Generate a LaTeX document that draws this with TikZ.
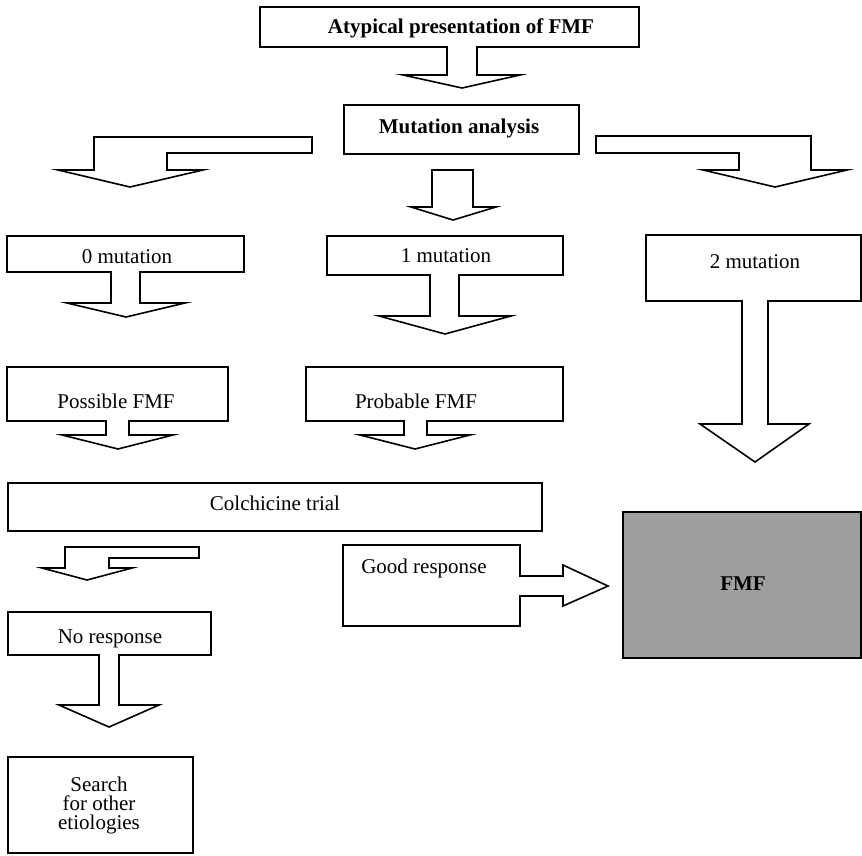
\documentclass[tikz,border=0pt]{standalone}
\usepackage{fontspec}
\setmainfont{Liberation Serif}
\definecolor{fmfgray}{RGB}{158,158,158}
\begin{document}
\begin{tikzpicture}[x=1pt,y=-1pt,
  shp/.style={draw=black,line width=1.6pt,line join=miter,fill=white},
  lbl/.style={inner sep=0pt,anchor=base,font=\fontsize{21}{19}\selectfont},
  blbl/.style={lbl,font=\fontsize{21}{19}\selectfont\bfseries}]
\useasboundingbox (0,0) rectangle (862,855);
\clip (0,0) rectangle (862,855);
% top box with arrow
\draw[shp] (260,7) -- (639,7) -- (639,47) -- (477,47) -- (477,75) -- (520,75) -- (462,88) -- (403,75) -- (447,75) -- (447,47) -- (260,47) -- cycle;
% mutation analysis
\draw[shp] (344,105) rectangle (579,154);
% left bent arrow
\draw[shp] (94,137) -- (312,137) -- (312,153) -- (167,153) -- (167,170) -- (203,170) -- (130,187) -- (58,170) -- (94,170) -- cycle;
% middle arrow
\draw[shp] (432,170) -- (473,170) -- (473,207) -- (496,207) -- (453,220) -- (411,207) -- (432,207) -- cycle;
% right bent arrow
\draw[shp] (596,136) -- (811,136) -- (811,170) -- (847,170) -- (775,187) -- (703,170) -- (739,170) -- (739,153) -- (596,153) -- cycle;
% 0 mutation
\draw[shp] (7,236) -- (244,236) -- (244,272) -- (140,272) -- (140,303) -- (185,303) -- (126,317) -- (67,303) -- (111,303) -- (111,272) -- (7,272) -- cycle;
% 1 mutation
\draw[shp] (327,236) -- (563,236) -- (563,275) -- (459,275) -- (459,316) -- (511,316) -- (445,334) -- (379,316) -- (430,316) -- (430,275) -- (327,275) -- cycle;
% 2 mutation
\draw[shp] (646,235) -- (861,235) -- (861,301) -- (768,301) -- (768,424) -- (809,424) -- (755,462) -- (700,424) -- (742,424) -- (742,301) -- (646,301) -- cycle;
% possible FMF
\draw[shp] (7,367) -- (228,367) -- (228,421) -- (129,421) -- (129,435) -- (173,435) -- (118,449) -- (62,435) -- (106,435) -- (106,421) -- (7,421) -- cycle;
% probable FMF
\draw[shp] (306,367) -- (563,367) -- (563,421) -- (427,421) -- (427,435) -- (470,435) -- (415,449) -- (360,435) -- (404,435) -- (404,421) -- (306,421) -- cycle;
% colchicine
\draw[shp] (8,483) rectangle (542,531);
% small bent arrow
\draw[shp] (65,547) -- (199,547) -- (199,558) -- (109,558) -- (109,568) -- (132,568) -- (87,580) -- (42,568) -- (65,568) -- cycle;
% good response
\draw[shp] (343,545) -- (520,545) -- (520,576) -- (563,576) -- (563,565) -- (608,586) -- (563,606) -- (563,596) -- (520,596) -- (520,626) -- (343,626) -- cycle;
% FMF box
\draw[draw=black,line width=2.6pt,fill=fmfgray] (623,512) rectangle (861,658);
% no response
\draw[shp] (8,612) -- (211,612) -- (211,655) -- (119,655) -- (119,705) -- (159,705) -- (109,727) -- (59,705) -- (99,705) -- (99,655) -- (8,655) -- cycle;
% search
\draw[shp] (8,757) rectangle (193,853);
% texts
\node[blbl] (atyp) at (461,33) {Atypical presentation of FMF};
\node[blbl] (mut) at (459,133) {Mutation analysis};
\node[lbl] (m0) at (127,263) {0 mutation};
\node[lbl] (m1) at (446,262) {1 mutation};
\node[lbl] (m2) at (755,268) {2 mutation};
\node[lbl] (poss) at (116,408) {Possible FMF};
\node[lbl] (prob) at (416,408) {Probable FMF};
\node[lbl] (colch) at (275,510) {Colchicine trial};
\node[lbl] (good) at (424,573) {Good response};
\node[lbl] (nores) at (110,643) {No response};
\node[blbl] (fmf) at (743,590) {FMF};
\node[inner sep=0pt,align=center,font=\fontsize{21}{19}\selectfont] (search) at (99,805) {Search\\for other\\etiologies};
\end{tikzpicture}
\end{document}
